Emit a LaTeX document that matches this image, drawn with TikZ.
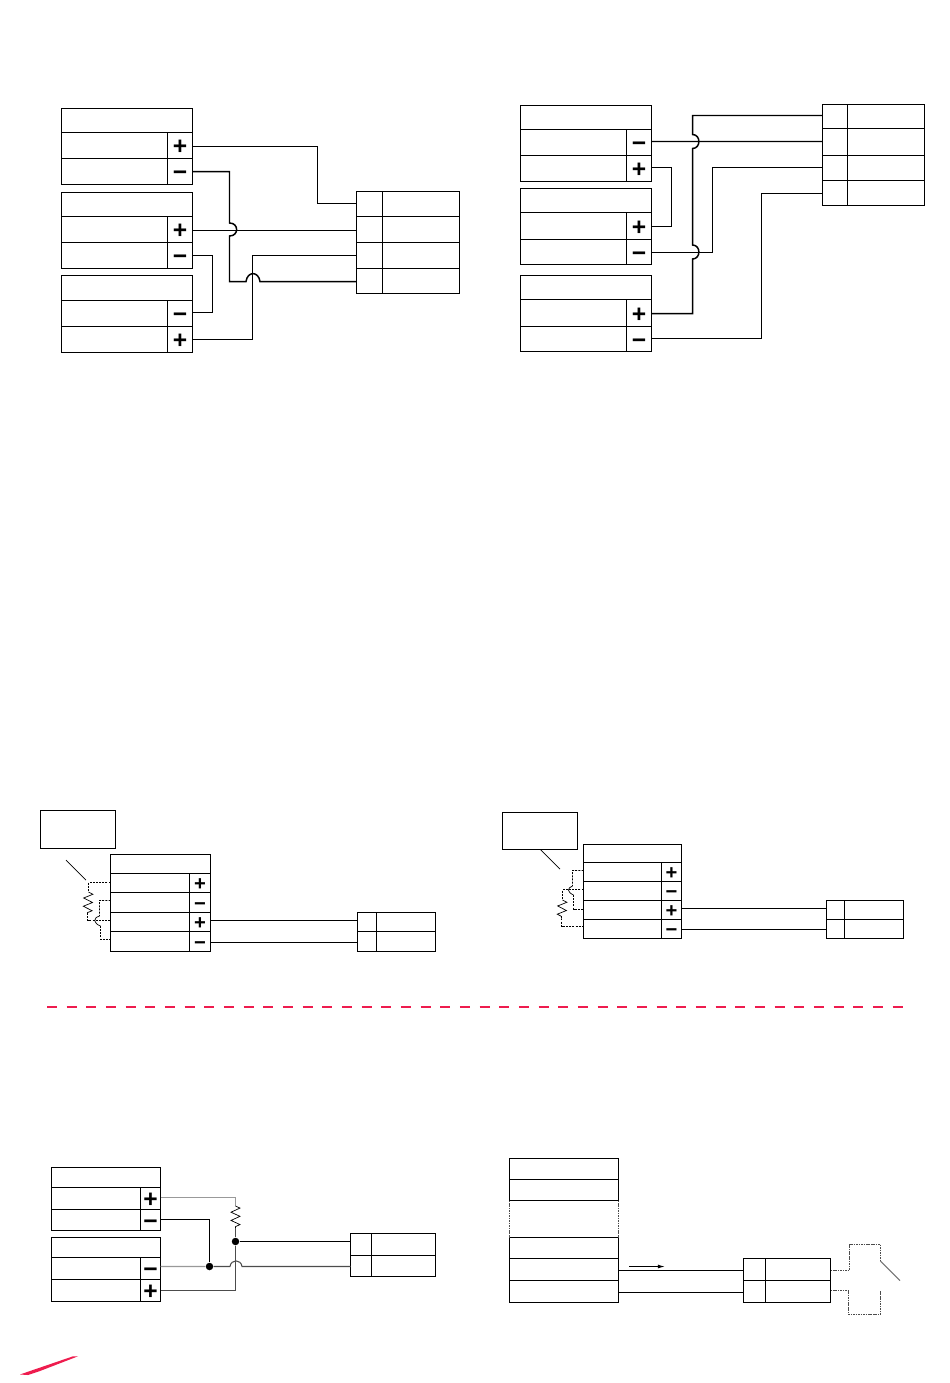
\documentclass[tikz,border=0pt]{standalone}
\usepackage{fontspec}
\usepackage{tikz}
\usetikzlibrary{calc,arrows.meta,decorations.pathmorphing}
\newfontfamily\termfont{Liberation Sans}[Scale=1]
\definecolor{pagered}{RGB}{238,28,78}
\newcommand{\boxcell}[6]{\node[cell,minimum width={(#3-#2)*0.02cm},minimum height={(#5-#4)*0.02cm}] (#1) at ({(#2+#3)/2},{(#4+#5)/2}) {#6};}
\newcommand{\termrow}[7]{\boxcell{#1l}{#2}{#3}{#5}{#6}{}\boxcell{#1}{#3}{#4}{#5}{#6}{#7}}
\newcommand{\tgtrow}[6]{\boxcell{#1}{#2}{#3}{#5}{#6}{}\boxcell{#1l}{#3}{#4}{#5}{#6}{}}
\newcommand{\tsize}{14}
\newcommand{\theight}{10.6pt}
\begin{document}
\begin{tikzpicture}[x=0.02cm,y=-0.02cm]
            \tikzstyle{cell}=[rectangle,draw=black,line width=0.65pt,inner sep=0pt,outer sep=0pt,text height=\theight,text depth=0pt,font=\termfont\bfseries\fontsize{\tsize}{\tsize}\selectfont]
            \tikzstyle{wire}=[line width=0.6pt]
            \tikzstyle{heavy}=[line width=0.85pt]
            \tikzstyle{greywire}=[line width=0.8pt,black!40]
            \tikzstyle{dashwire}=[line width=0.55pt,dash pattern=on 1.1pt off 0.7pt]
            \tikzstyle{thin}=[line width=0.4pt]
            \tikzstyle{res}=[line width=0.4pt,decorate,decoration={zigzag,amplitude=0.09cm,segment length=0.165cm}]
            \tikzstyle{dot}=[circle,fill=black,inner sep=0pt,minimum width=0.15cm]
            \tikzstyle{swline}=[line width=0.6pt,black!70,dash pattern=on 0.9pt off 0.5pt]
            \useasboundingbox (0,0) rectangle (950,1383);
            % top left
            \boxcell{ah}{61.5}{192.5}{108.5}{132.5}{}
            \foreach \n/\ya/\yb/\s in {a1/132.5/158.5/+,a2/158.5/184.5/−,b1/216.5/242.5/+,b2/242.5/268.5/−,c1/300.5/326.5/−,c2/326.5/352.5/+}
                \termrow{\n}{61.5}{167.5}{192.5}{\ya}{\yb}{\s};
            \boxcell{bh}{61.5}{192.5}{192.5}{216.5}{}
            \boxcell{ch}{61.5}{192.5}{275.5}{300.5}{}
            \foreach \n/\ya/\yb in {r1/191.5/216.5,r2/216.5/242.5,r3/242.5/268.5,r4/268.5/293.5}
                \tgtrow{\n}{356.5}{382.5}{459.5}{\ya}{\yb};
            \draw[wire] ([yshift=-0.02cm]a1.east) -- ++(125,0) |- ([yshift=0.01cm]r1.west);
            \draw[wire] ([yshift=-0.02cm]b1.east) -- ([yshift=-0.02cm]r2.west);
            \draw[wire] (b2.east) -- ++(20,0) |- ([yshift=0.02cm]c1.east);
            \draw[wire] (c2.east) -- ++(60,0) |- (r3.west);
            \draw[heavy] (a2.east) -- ++(37,0) -- (229.5,223) .. controls (239,223) and (239,236) .. (229.5,236) -- (229.5,281.5) -- (246,281.5) .. controls (247.5,271) and (258.5,271) .. (260,281.5) -- ([yshift=-0.01cm]r4.west);
            % top right
            \boxcell{dh}{520.5}{651.5}{105.5}{129.5}{}
            \foreach \n/\ya/\yb/\s in {d1/129.5/155.5/−,d2/155.5/181.5/+,e1/212.5/239.5/+,e2/239.5/264.5/−,f1/299.5/326.5/+,f2/326.5/351.5/−}
                \termrow{\n}{520.5}{626.5}{651.5}{\ya}{\yb}{\s};
            \boxcell{eh}{520.5}{651.5}{188.5}{212.5}{}
            \boxcell{fh}{520.5}{651.5}{275.5}{299.5}{}
            \foreach \n/\ya/\yb in {t1/104.5/128.5,t2/128.5/155.5,t3/155.5/180.5,t4/180.5/205.5}
                \tgtrow{\n}{822.5}{847.5}{924.5}{\ya}{\yb};
            \draw[wire] ([yshift=0.02cm]d1.east) -- ([yshift=0.01cm]t2.west);
            \draw[wire] ([yshift=0.02cm]d2.east) -- ++(20,0) |- ([yshift=-0.01cm]e1.east);
            \draw[wire] ([yshift=-0.01cm]e2.east) -- ++(61,0) |- ([yshift=0.01cm]t3.west);
            \draw[wire] ([yshift=0.01cm]f2.east) -- ++(110,0) |- ([yshift=-0.01cm]t4.west);
            \draw[heavy] ([yshift=-0.01cm]f1.east) -- ++(41,0) -- (692.5,259) .. controls (701,259) and (701,245) .. (692.5,245) -- (692.5,148.5) .. controls (701,148.5) and (701,134.5) .. (692.5,134.5) |- ([yshift=0.02cm]t1.west);
            % middle left
            \boxcell{n}{40.5}{115.5}{810.5}{848.5}{}
            \boxcell{sh}{110.5}{210.5}{854.5}{873.5}{}
            \renewcommand{\tsize}{11.5}
            \renewcommand{\theight}{8.6pt}
            \foreach \n/\ya/\yb/\s in {s1/873.5/892.5/+,s2/892.5/912.5/−,s3/912.5/931.5/+,s4/931.5/951.5/−}
                \termrow{\n}{110.5}{189.5}{210.5}{\ya}{\yb}{\s};
            \tgtrow{u1}{357.5}{376.5}{435.5}{912.5}{931.5}
            \tgtrow{u2}{357.5}{376.5}{435.5}{931.5}{951.5}
            \draw[wire] ([yshift=0.03cm]s3.east) -- ([yshift=0.03cm]u1.west);
            \draw[wire] ([yshift=-0.02cm]s4.east) -- ([yshift=-0.02cm]u2.west);
            \coordinate (nl) at (66,860);
            \coordinate (rt) at (88.5,892);
            \coordinate (rb) at (87.5,913);
            \draw[thin] (nl) -- (86,880);
            \draw[dashwire] ([yshift=0.01cm]s1l.west) -| (rt);
            \draw[res] (rt) -- (rb);
            \draw[dashwire] (rb) |- ([yshift=0.03cm]s3l.west);
            \draw[dashwire] ([yshift=0.04cm]s2l.west) -- (99.5,900.5) -- (99.5,916);
            \draw[thin] (99.5,916) .. controls (93,918) and (93,923) .. (100.5,926);
            \draw[dashwire] (100.5,926) |- ([yshift=0.04cm]s4l.west);
            % middle right
            \boxcell{m}{502.5}{577.5}{812.5}{849.5}{}
            \boxcell{vh}{583.5}{681.5}{844.5}{862.5}{}
            \foreach \n/\ya/\yb/\s in {v1/862.5/881.5/+,v2/881.5/900.5/−,v3/900.5/919.5/+,v4/919.5/938.5/−}
                \termrow{\n}{583.5}{661.5}{681.5}{\ya}{\yb}{\s};
            \tgtrow{w1}{826.5}{844.5}{903.5}{900.5}{919.5}
            \tgtrow{w2}{826.5}{844.5}{903.5}{919.5}{938.5}
            \draw[wire] ([yshift=0.03cm]v3.east) -- ([yshift=0.03cm]w1.west);
            \draw[wire] ([yshift=-0.01cm]v4.east) -- ([yshift=-0.01cm]w2.west);
            \coordinate (ml) at (560,869);
            \coordinate (qt) at (562.5,900);
            \coordinate (qb) at (561.5,918.5);
            \draw[thin] (540.5,849.5) -- (ml);
            \draw[dashwire] ([yshift=0.03cm]v1l.west) -- (572.5,870.5) -- (572.5,886);
            \draw[thin] (572.5,886) .. controls (567,888) and (567,892) .. (573.5,895);
            \draw[dashwire] (573.5,895) |- ([yshift=0.01cm]v3l.west);
            \draw[dashwire] ([yshift=0.03cm]v2l.west) -| (qt);
            \draw[res] (qt) -- (qb);
            \draw[dashwire] (qb) |- ([yshift=0.05cm]v4l.west);
            \renewcommand{\tsize}{14}
            \renewcommand{\theight}{10.6pt}
            % separator
            \coordinate (sl) at (47,1007);
            \coordinate (sr) at (904,1007);
            \draw[pagered,line width=1.15pt,dash pattern=on 0.2cm off 0.1934cm] (sl) -- (sr);
            % bottom left
            \boxcell{gh}{51.5}{160.5}{1167.5}{1187.5}{}
            \termrow{g1}{51.5}{140.5}{160.5}{1187.5}{1209.5}{+}
            \termrow{g2}{51.5}{140.5}{160.5}{1209.5}{1230.5}{−}
            \boxcell{hh}{51.5}{160.5}{1237.5}{1257.5}{}
            \termrow{h1}{51.5}{140.5}{160.5}{1257.5}{1279.5}{−}
            \termrow{h2}{51.5}{140.5}{160.5}{1279.5}{1301.5}{+}
            \tgtrow{k1}{350.5}{371.5}{435.5}{1233.5}{1255.5}
            \tgtrow{k2}{350.5}{371.5}{435.5}{1255.5}{1276.5}
            \node[dot] (j1) at (209.5,1266.5) {};
            \node[dot] (j2) at (235.5,1241.5) {};
            \coordinate (gt) at (235.5,1206);
            \coordinate (gb) at (235.5,1228);
            \draw[greywire,line width=1pt] ([yshift=0.02cm]g1.east) -| (gt);
            \draw[res] (gt) -- (gb);
            \draw[wire,black!70] (gb) -- (j2);
            \draw[wire] ([yshift=0.01cm]g2.east) -| (j1);
            \draw[greywire] ([yshift=0.04cm]h1.east) -- (j1);
            \draw[wire,black!70] (j1) -- (230,1266.5) .. controls (231,1259) and (241,1259) .. (242,1266.5) -- ([yshift=-0.01cm]k2.west);
            \draw[wire,black!70] (h2.east) -| (j2);
            \draw[wire] (j2) -- (j2 -| k1.west);
            % bottom right
            \boxcell{p1}{509.5}{618.5}{1158.5}{1179.5}{}
            \boxcell{p2}{509.5}{618.5}{1179.5}{1200.5}{}
            \boxcell{p3}{509.5}{618.5}{1237.5}{1258.5}{}
            \boxcell{p4}{509.5}{618.5}{1258.5}{1280.5}{}
            \boxcell{p5}{509.5}{618.5}{1280.5}{1302.5}{}
            \draw[swline] (p2.south west) -- (p3.north west);
            \draw[swline] (p2.south east) -- (p3.north east);
            \tgtrow{q1}{743.5}{765.5}{830.5}{1258.5}{1280.5}
            \tgtrow{q2}{743.5}{765.5}{830.5}{1280.5}{1302.5}
            \draw[wire] ([yshift=-0.02cm]p4.east) -- ([yshift=-0.02cm]q1.west);
            \draw[wire] ([yshift=-0.02cm]p5.east) -- ([yshift=-0.02cm]q2.west);
            \coordinate (fa) at (629,1266.5);
            \coordinate (fb) at (665,1266.5);
            \draw[wire,-{Latex[length=4pt,width=2.2pt]}] (fa) -- (fb);
            \coordinate (sa) at (880.5,1261);
            \coordinate (sb) at (900,1280.5);
            \coordinate (sc) at (880.5,1291);
            \draw[swline] ([yshift=-0.02cm]q1l.east) -- ++(19,0) |- (880.5,1244.5) -- (sa);
            \draw[thin,black!55,line width=0.6pt] (sa) -- (sb);
            \draw[swline] ([yshift=0.02cm]q2l.east) -- ++(18,0) |- (880.5,1314.5) -- (sc);
            % corner stroke
            \fill[pagered] (20,1374.5) -- (30,1371) -- (73,1356.3) -- (78,1356.3) -- (40,1371) -- (28,1375) -- cycle;
\end{tikzpicture}
\end{document}
